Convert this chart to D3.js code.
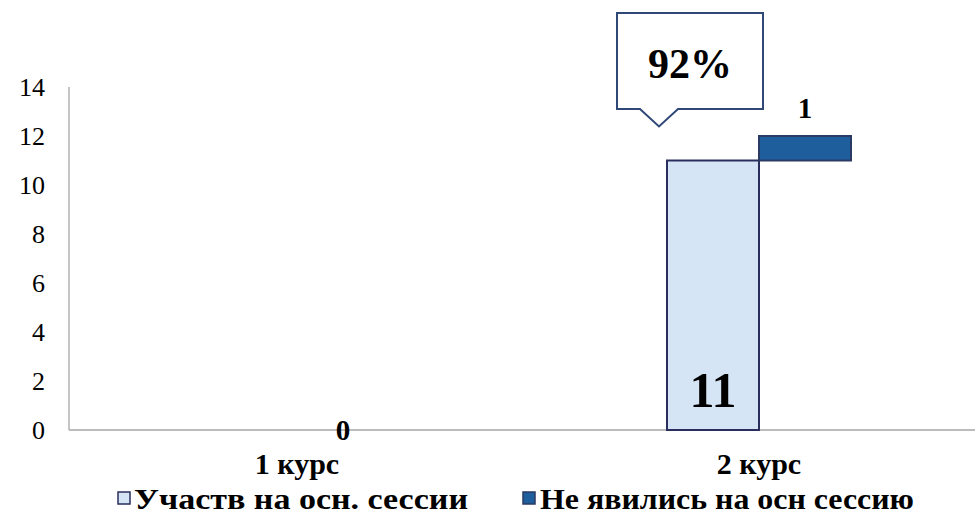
<!DOCTYPE html>
<html><head><meta charset="utf-8">
<script src="https://cdn.jsdelivr.net/npm/d3@7"></script>
<style>body{margin:0;background:#fff}svg text{font-family:"Liberation Serif","Times New Roman","DejaVu Serif",serif}</style>
</head><body><svg id="c" width="975" height="518"></svg>
<script>
const categories = ["1 курс", "2 курс"];
const participated = [0, 11];
const absent = [0, 1];
const seriesNames = ["Участв на осн. сессии", "Не явились на осн сессию"];
const yTicks = [0, 2, 4, 6, 8, 10, 12, 14];
const calloutText = "92%";

const FF = "Liberation Serif, Times New Roman, serif";
const svg = d3.select("#c");
const x = d3.scaleBand().domain(categories).range([66, 990]);
const y = d3.scaleLinear().domain([0, 14]).range([430, 87]);
const bw = 92;

// axes
svg.append("line").attr("x1", 69).attr("x2", 69).attr("y1", y(14)).attr("y2", y(0)).attr("stroke", "#a6a6a6").attr("stroke-width", 1.3);
svg.append("line").attr("x1", 69).attr("x2", 975).attr("y1", y(0)).attr("y2", y(0)).attr("stroke", "#a6a6a6").attr("stroke-width", 1.3);
svg.selectAll(".yt").data(yTicks).join("text")
  .attr("font-family", FF)
  .attr("x", 45).attr("y", d => y(d)).attr("dy", "0.35em").attr("text-anchor", "end")
  .attr("font-size", 26).attr("fill", "#000").text(d => d);
svg.selectAll(".xt").data(categories).join("text")
  .attr("font-family", FF)
  .attr("x", d => x(d) + x.bandwidth() / 2).attr("y", 474).attr("text-anchor", "middle")
  .attr("font-size", 30).attr("font-weight", "bold").text(d => d);

const cx = d => x(d) + x.bandwidth() / 2;
// participated bars
svg.selectAll(".b1").data(categories).join("rect")
  .attr("x", d => cx(d) - bw).attr("width", bw)
  .attr("y", (d, i) => y(participated[i])).attr("height", (d, i) => y(0) - y(participated[i]))
  .attr("fill", "#d6e5f6").attr("stroke", "#2a2e5c").attr("stroke-width", 2)
  .attr("visibility", (d, i) => participated[i] > 0 ? "visible" : "hidden");
// absent bars (floating)
svg.selectAll(".b2").data(categories).join("rect")
  .attr("x", d => cx(d)).attr("width", bw)
  .attr("y", (d, i) => y(participated[i] + absent[i])).attr("height", (d, i) => y(participated[i]) - y(participated[i] + absent[i]))
  .attr("fill", "#1f5e9d").attr("stroke", "#2a3a62").attr("stroke-width", 2)
  .attr("visibility", (d, i) => absent[i] > 0 ? "visible" : "hidden");

// labels
svg.selectAll(".l1").data(categories).join("text")
  .attr("font-family", FF)
  .attr("x", d => cx(d) - bw / 2).attr("y", y(0) - 23).attr("text-anchor", "middle")
  .attr("font-size", 50).attr("font-weight", "bold")
  .text((d, i) => participated[i] > 0 ? participated[i] : "");
svg.selectAll(".l2").data(categories).join("text")
  .attr("font-family", FF)
  .attr("x", d => cx(d) + bw / 2)
  .attr("y", (d, i) => absent[i] > 0 ? y(participated[i] + absent[i]) - 18 : y(participated[i]) + 10)
  .attr("text-anchor", "middle").attr("font-size", 29).attr("font-weight", "bold")
  .text((d, i) => absent[i]);

// callout
const bx = cx(categories[1]) - bw;
const tipX = bx - 8, tipY = y(participated[1]) - 34;
const L = bx - 50, R = bx + 96, T = 13, B = 109;
svg.append("path")
  .attr("d", `M${L},${T}H${R}V${B}H${tipX + 19}L${tipX},${tipY}L${tipX - 19},${B}H${L}Z`)
  .attr("fill", "#fff").attr("stroke", "#2f4878").attr("stroke-width", 2);
svg.append("text").attr("font-family", FF).attr("x", (L + R) / 2).attr("y", 78).attr("text-anchor", "middle")
  .attr("font-size", 42).attr("font-weight", "bold").text(calloutText);

// legend
const leg = [{x: 118, tx: 134, w: 334, fill: "#d6e5f6", stroke: "#2a2e5c"}, {x: 523, tx: 540, w: 374, fill: "#1f5e9d", stroke: "#2a3a62"}];
leg.forEach((l, i) => {
  svg.append("rect").attr("x", l.x).attr("y", 492).attr("width", 12).attr("height", 12)
    .attr("fill", l.fill).attr("stroke", l.stroke).attr("stroke-width", 1.5);
  svg.append("text").attr("font-family", FF).attr("x", l.tx).attr("y", 509).attr("font-size", 30)
    .attr("font-weight", "bold").attr("textLength", l.w).attr("lengthAdjust", "spacingAndGlyphs").text(seriesNames[i]);
});
</script></body></html>
